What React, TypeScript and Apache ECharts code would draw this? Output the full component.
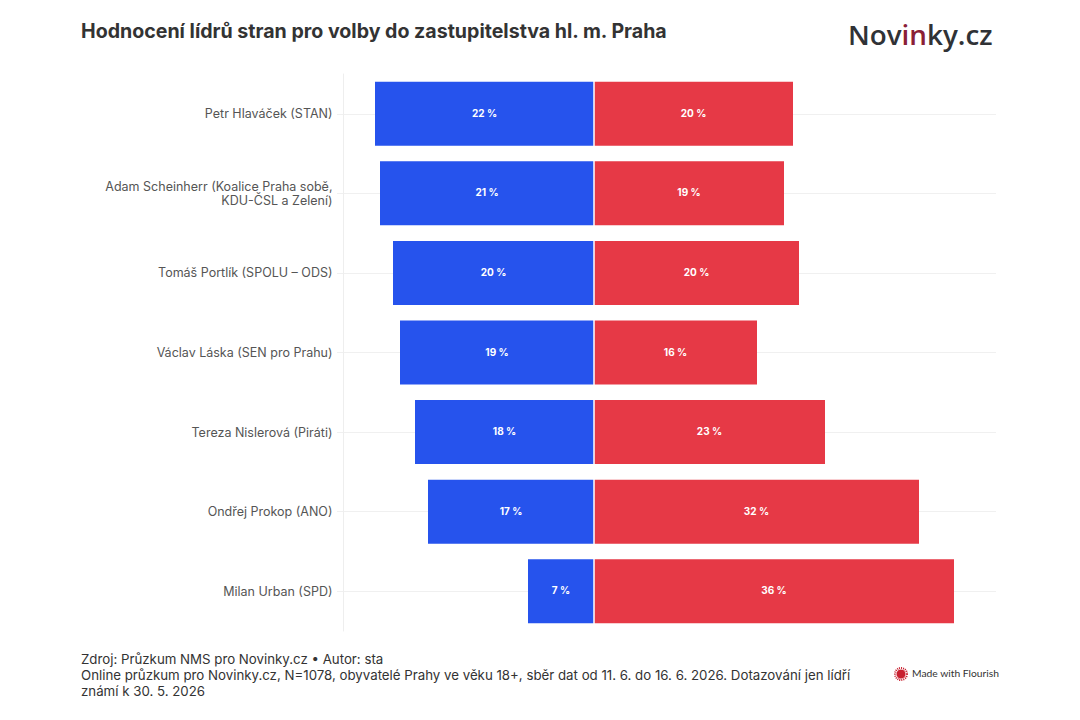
import React, { useEffect, useRef } from "react";
import * as echarts from "echarts";

const leaders = [
  "Petr Hlaváček (STAN)",
  "Adam Scheinherr (Koalice Praha sobě,\nKDU-ČSL a Zelení)",
  "Tomáš Portlík (SPOLU – ODS)",
  "Václav Láska (SEN pro Prahu)",
  "Tereza Nislerová (Piráti)",
  "Ondřej Prokop (ANO)",
  "Milan Urban (SPD)",
];
const positiveValues = [21.9, 21.4, 20.1, 19.4, 17.9, 16.6, 6.6];
const negativeValues = [19.9, 19.0, 20.5, 16.3, 23.1, 32.5, 36.0];
const positiveLabels = ["22 %", "21 %", "20 %", "19 %", "18 %", "17 %", "7 %"];
const negativeLabels = ["20 %", "19 %", "20 %", "16 %", "23 %", "32 %", "36 %"];
const titleText = "Hodnocení lídrů stran pro volby do zastupitelstva hl. m. Praha";
const footerLines = [
  "Zdroj: Průzkum NMS pro Novinky.cz • Autor: sta",
  "Online průzkum pro Novinky.cz, N=1078, obyvatelé Prahy ve věku 18+, sběr dat od 11. 6. do 16. 6. 2026. Dotazování jen lídří",
  "známí k 30. 5. 2026",
];
const FONT = "Inter";

export default function App() {
  const ref = useRef<HTMLDivElement>(null);
  useEffect(() => {
    const chart = echarts.init(ref.current!, undefined, { renderer: "svg" });
    const labelStyle = {
      show: true,
      position: "inside" as const,
      offset: [0, -1],
      color: "#fff",
      fontFamily: FONT,
      fontSize: 10,
      fontWeight: 700,
    };
    chart.setOption({
      animation: false,
      backgroundColor: "#fff",
      title: {
        text: titleText,
        left: 81,
        top: 21,
        padding: 0,
        textStyle: { fontFamily: FONT, fontSize: 19.6, fontWeight: 700, color: "#333" },
      },
      grid: { left: 343, top: 74, width: 653, height: 557 },
      xAxis: {
        type: "value",
        min: -25.1,
        max: 40.2,
        show: false,
        splitLine: { show: false },
      },
      yAxis: {
        type: "category",
        inverse: true,
        data: leaders,
        axisLine: { show: true, onZero: false, lineStyle: { color: "#eeeeee", width: 1 } },
        axisTick: { show: true, alignWithLabel: true, length: 6, lineStyle: { color: "#f0f0f0" } },
        splitLine: { show: true, alignWithLabel: true, lineStyle: { color: "#f0f0f0", width: 1 } },
        axisLabel: {
          margin: 10.5,
          color: "#555",
          fontFamily: FONT,
          fontSize: 12.5,
          lineHeight: 14,
          align: "right",
        },
      },
      series: [
        {
          type: "bar",
          name: "Pozitivní",
          data: positiveValues.map((v) => -v),
          barWidth: 64,
          barGap: "-100%",
          itemStyle: { color: "#2653ed" },
          label: { ...labelStyle, formatter: (p: any) => positiveLabels[p.dataIndex] },
        },
        {
          type: "bar",
          name: "Negativní",
          data: negativeValues,
          barWidth: 64,
          itemStyle: { color: "#e63946" },
          label: { ...labelStyle, formatter: (p: any) => negativeLabels[p.dataIndex] },
          markLine: {
            silent: true,
            symbol: "none",
            label: { show: false },
            lineStyle: { color: "#fff", width: 1.5, type: "solid" },
            data: [{ xAxis: 0 }],
          },
        },
      ],
      graphic: [
        {
          type: "text",
          left: 848,
          top: 20,
          style: {
            text: "{a|Nov}{b|in}{a|ky.cz}",
            rich: {
              a: { fontFamily: "Open Sans", fontSize: 27.8, fontWeight: 600, fill: "#303236" },
              b: { fontFamily: "Open Sans", fontSize: 27.8, fontWeight: 600, fill: "#8a2036" },
            },
          },
        },
        {
          type: "text",
          left: 81,
          top: 651,
          style: {
            text: footerLines.join("\n"),
            fontFamily: FONT,
            fontSize: 13.28,
            lineHeight: 16,
            fill: "#333",
          },
        },
        { type: "circle", shape: { cx: 901, cy: 674, r: 4.5 }, style: { fill: "#c8202f" } },
        {
          type: "circle",
          shape: { cx: 901, cy: 674, r: 6 },
          style: { fill: "none", stroke: "#c8202f", lineWidth: 2, lineDash: [1, 1] },
        },
        {
          type: "text",
          left: 912,
          top: 668,
          style: {
            text: "Made with Flourish",
            fontFamily: "Lato",
            fontSize: 10.3,
            fill: "#333",
          },
        },
      ],
    });
    return () => chart.dispose();
  }, []);
  return (
    <div
      ref={ref}
      style={{ position: "fixed", left: 0, top: 0, width: 1080, height: 720 }}
    />
  );
}
